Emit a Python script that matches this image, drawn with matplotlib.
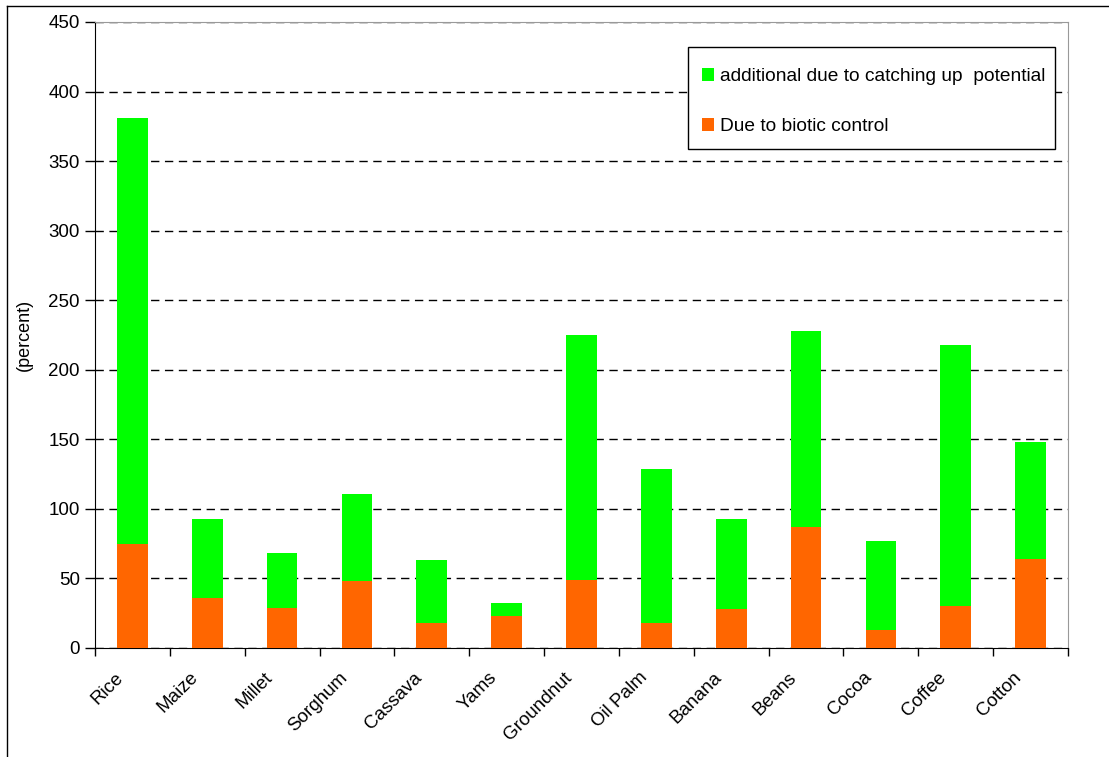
import matplotlib
matplotlib.use("Agg")
import matplotlib.pyplot as plt
import matplotlib.transforms as mtransforms
from matplotlib.lines import Line2D
from matplotlib.patches import Rectangle
import numpy as np

plt.rcParams["font.family"] = ["Liberation Sans", "DejaVu Sans"]

crops = ["Rice", "Maize", "Millet", "Sorghum", "Cassava", "Yams", "Groundnut",
         "Oil Palm", "Banana", "Beans", "Cocoa", "Coffee", "Cotton"]
# lower part of each bar
biotic = [75, 36, 29, 48, 18, 23, 49, 18, 28, 87, 13, 30.5, 64]
# total height of each bar
total = [381, 93, 68, 111, 63.5, 32, 225, 128.5, 93, 228, 77, 218, 148]
additional = [t - b for t, b in zip(total, biotic)]

green = "#00ff00"
orange = "#ff6600"

W, H = 1109, 757
fig = plt.figure(figsize=(W / 100, H / 100), dpi=100)
ax = fig.add_axes([95 / W, 1 - 648 / H, 973 / W, 626 / H])

x = np.arange(len(crops))
ax.bar(x, biotic, width=0.41, color=orange, label="Due to biotic control", zorder=3)
ax.bar(x, additional, width=0.41, bottom=biotic, color=green,
       label="additional due to catching up  potential", zorder=3)

ax.set_xlim(-0.5, len(crops) - 0.5)
ax.set_ylim(0, 450)
ax.set_yticks(range(0, 451, 50))
# category labels, rotated, ending just under the bar centre
ax.set_xticks([])
ax.set_xticks(np.arange(-0.5, len(crops), 1), minor=True)
ax.tick_params(axis="x", which="minor", length=6, width=1, direction="out",
               labelbottom=False)
lab_tr = ax.get_xaxis_transform() + mtransforms.ScaledTranslation(
    -0.12, -0.27, fig.dpi_scale_trans)
for i, name in enumerate(crops):
    ax.text(i, 0, name, transform=lab_tr, rotation=45, ha="right", va="center",
            rotation_mode="anchor", fontsize=13.5)
ax.tick_params(axis="y", length=7, width=1, direction="out", labelsize=13.5, pad=4)

ax.yaxis.grid(True, linestyle=(0, (6, 4)), color="black", linewidth=1, zorder=0)
ax.spines["top"].set_color("#999999")
ax.spines["right"].set_color("#999999")
ax.spines["left"].set_color("black")
ax.spines["bottom"].set_color("black")

ax.set_ylabel("(percent)", fontsize=13, labelpad=11)

# legend frame drawn on its own, entries placed inside it
fig.add_artist(Rectangle((688 / W, 1 - 149 / H), (1055 - 688) / W, 102 / H,
                         transform=fig.transFigure, facecolor="white",
                         edgecolor="black", lw=1, zorder=4))
handles, labels = ax.get_legend_handles_labels()
leg = fig.legend(handles[::-1], labels[::-1], loc="upper left",
                 bbox_to_anchor=(702 / W, 1 - 68 / H),
                 fontsize=13.8, frameon=False,
                 handlelength=0.65, handleheight=0.65, handletextpad=0.3,
                 labelspacing=1.7, borderpad=0, borderaxespad=0)
leg.set_zorder(5)

# outer chart border (top and left visible)
fig.add_artist(Line2D([7 / W, 1], [1 - 6 / H, 1 - 6 / H], color="black", lw=1))
fig.add_artist(Line2D([7 / W, 7 / W], [0, 1 - 6 / H], color="black", lw=1))

fig.savefig("out.png", dpi=100)
